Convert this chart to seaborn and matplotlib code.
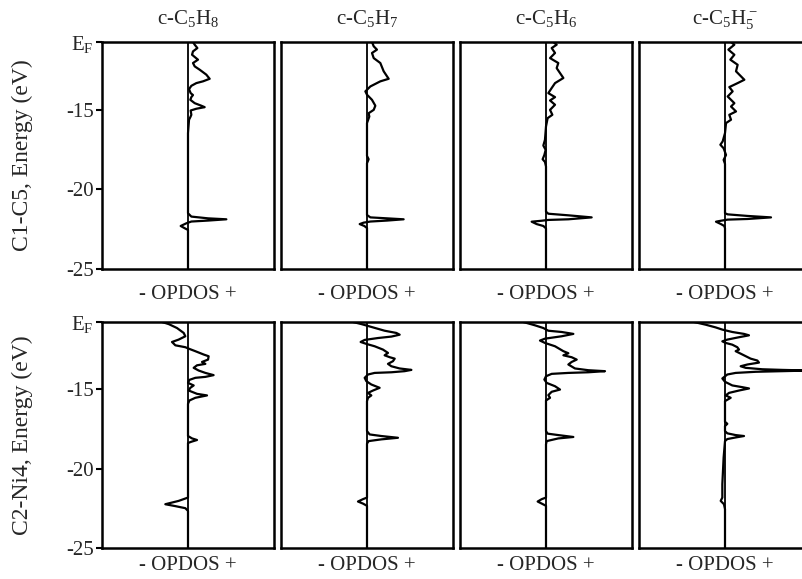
import matplotlib
matplotlib.use('Agg')
import matplotlib.pyplot as plt
import seaborn as sns
import numpy as np

sns.set_style('white')
plt.rcParams['font.family'] = ['Liberation Serif', 'DejaVu Serif']
plt.rcParams['mathtext.fontset'] = 'custom'
plt.rcParams['mathtext.rm'] = 'Liberation Serif'
plt.rcParams['mathtext.default'] = 'regular'
plt.rcParams['axes.unicode_minus'] = False

# ---- data (energy in eV, OPDOS in arbitrary units) ----
E_F = -10.75
species = ['c-C$_5$H$_8$', 'c-C$_5$H$_7$', 'c-C$_5$H$_6$', 'c-C$_5$H$_5^-$']
bonds = ['C1-C5', 'C2-Ni4']
yticks = [-25, -20, -15, E_F]
ytick_labels = ['-25', '-20', '-15', '$E_F$']

# C1-C5 row
c1c5_h8_e = [-10.75, -10.92, -11.13, -11.34, -11.55, -11.86, -12.07, -12.28, -12.49, -12.80,
             -13.06, -13.22, -13.33, -13.50, -13.71, -13.96, -14.08, -14.21, -14.38, -14.59,
             -14.75, -14.84, -14.94, -15.05, -15.32, -15.47, -15.63, -16.47, -21.50, -21.71,
             -21.82, -21.88, -21.96, -22.02, -22.13, -22.30, -22.44, -22.55, -25.0]
c1c5_h8_v = [0.058, 0.078, 0.109, 0.058, 0.047, 0.116, 0.058, 0.078, 0.136, 0.213,
             0.252, 0.174, 0.097, 0.039, 0.012, 0.031, 0.058, 0.039, 0.027, 0.078,
             0.155, 0.194, 0.097, 0.031, 0.039, 0.027, 0.012, 0.0, 0.0, 0.039,
             0.233, 0.446, 0.233, 0.039, -0.019, -0.085, -0.039, 0.0, 0.0]

c1c5_h7_e = [-10.75, -11.02, -11.23, -11.44, -11.76, -12.07, -12.59, -13.06, -13.22, -13.54,
             -13.85, -14.06, -14.38, -14.75, -15.01, -15.22, -15.43, -15.84, -17.90, -18.11,
             -18.36, -21.61, -21.76, -21.82, -21.88, -21.96, -22.02, -22.09, -22.18, -22.30,
             -22.43, -25.0]
c1c5_h7_v = [0.058, 0.078, 0.116, 0.058, 0.078, 0.155, 0.194, 0.252, 0.155, 0.039,
             -0.019, 0.0, 0.058, 0.097, 0.078, 0.019, 0.027, 0.0, 0.0, 0.019,
             0.0, 0.0, 0.039, 0.233, 0.426, 0.233, 0.039, -0.039, -0.085, -0.031,
             0.0, 0.0]

c1c5_h6_e = [-10.75, -10.92, -11.13, -11.44, -11.76, -12.07, -12.39, -12.70, -13.01, -13.33,
             -13.64, -13.96, -14.21, -14.42, -14.69, -15.01, -15.32, -15.53, -16.05, -16.89,
             -17.25, -17.52, -17.84, -18.11, -18.28, -18.57, -21.40, -21.53, -21.63, -21.76,
             -21.88, -21.92, -21.97, -22.03, -22.18, -22.30, -22.45, -25.0]
c1c5_h6_v = [0.085, 0.124, 0.066, 0.105, 0.047, 0.143, 0.124, 0.163, 0.202, 0.105,
             0.066, 0.027, 0.105, 0.047, 0.105, 0.047, 0.074, 0.019, 0.0, -0.012,
             -0.031, -0.004, -0.019, -0.039, -0.012, 0.0, 0.0, 0.027, 0.260, 0.531,
             0.260, 0.027, -0.050, -0.167, -0.109, -0.031, 0.0, 0.0]

c1c5_h5_e = [-10.75, -10.92, -11.23, -11.55, -11.86, -12.18, -12.59, -13.12, -13.33, -13.58,
             -13.85, -14.17, -14.59, -14.80, -15.11, -15.32, -15.63, -15.84, -16.47, -16.99,
             -17.20, -17.42, -17.84, -18.15, -18.40, -21.50, -21.57, -21.67, -21.76, -21.86,
             -21.90, -21.97, -22.03, -22.18, -22.30, -22.45, -25.0]
c1c5_h5_v = [0.070, 0.109, 0.039, 0.109, 0.062, 0.147, 0.128, 0.225, 0.147, 0.050,
             0.089, 0.031, 0.109, 0.070, 0.128, 0.050, 0.070, 0.012, 0.0, -0.027,
             -0.054, -0.016, 0.012, -0.016, 0.0, 0.0, 0.031, 0.264, 0.535, 0.264,
             0.031, -0.047, -0.105, -0.047, -0.008, 0.0, 0.0]

# C2-Ni4 row
c2ni4_h8_e = [-10.75, -10.88, -11.13, -11.44, -11.65, -11.86, -12.01, -12.22, -12.34, -12.43,
              -12.59, -12.80, -12.91, -13.12, -13.27, -13.39, -13.48, -13.64, -13.81, -13.96,
              -14.10, -14.21, -14.27, -14.40, -14.59, -14.75, -14.90, -15.07, -15.28, -15.38,
              -15.53, -15.70, -15.91, -17.94, -18.09, -18.19, -18.30, -18.38, -21.82, -22.03,
              -22.24, -22.36, -22.49, -22.66, -25.0]
c2ni4_h8_v = [-0.302, -0.225, -0.128, -0.050, -0.031, -0.109, -0.186, -0.147, -0.031, 0.008,
              0.085, 0.182, 0.240, 0.233, 0.163, 0.202, 0.105, 0.066, 0.124, 0.202,
              0.298, 0.202, 0.085, 0.016, 0.0, 0.066, 0.027, 0.008, 0.105, 0.221,
              0.085, 0.016, 0.0, 0.0, 0.047, 0.105, 0.039, 0.0, 0.0, -0.109,
              -0.264, -0.147, -0.031, 0.0, 0.0]

c2ni4_h7_e = [-10.75, -10.88, -11.06, -11.30, -11.44, -11.55, -11.67, -11.76, -11.88, -12.01,
              -12.13, -12.28, -12.49, -12.70, -12.85, -12.97, -13.06, -13.22, -13.39, -13.54,
              -13.68, -13.77, -13.85, -13.92, -13.96, -14.06, -14.27, -14.48, -14.69, -14.90,
              -15.07, -15.22, -15.38, -15.53, -15.74, -17.63, -17.84, -17.94, -18.05, -18.15,
              -18.26, -18.42, -21.82, -21.92, -22.07, -22.20, -22.34, -25.0]
c2ni4_h7_v = [-0.163, -0.066, 0.050, 0.205, 0.341, 0.380, 0.283, 0.128, -0.027, -0.074,
              -0.008, 0.089, 0.186, 0.244, 0.205, 0.264, 0.322, 0.302, 0.244, 0.283,
              0.380, 0.516, 0.438, 0.283, 0.089, 0.012, -0.027, -0.008, 0.050, 0.147,
              0.070, 0.012, 0.050, 0.012, 0.0, 0.0, 0.031, 0.167, 0.360, 0.167,
              0.019, 0.0, 0.0, -0.047, -0.105, -0.047, 0.0, 0.0]

c2ni4_h6_e = [-10.75, -10.96, -11.13, -11.30, -11.38, -11.50, -11.65, -11.80, -11.92, -12.07,
              -12.28, -12.59, -12.72, -12.85, -12.97, -13.12, -13.27, -13.43, -13.68, -13.79,
              -13.85, -13.92, -13.96, -14.02, -14.17, -14.38, -14.59, -14.80, -15.01, -15.15,
              -15.36, -15.53, -15.70, -17.63, -17.79, -17.88, -18.00, -18.09, -18.26, -18.46,
              -21.82, -21.92, -22.07, -22.20, -22.34, -25.0]
c2ni4_h6_v = [-0.264, -0.128, -0.031, 0.027, 0.182, 0.318, 0.182, -0.012, -0.070, -0.012,
              0.105, 0.202, 0.260, 0.202, 0.298, 0.357, 0.298, 0.260, 0.337, 0.492,
              0.686, 0.492, 0.260, 0.066, 0.0, -0.019, 0.008, 0.105, 0.163, 0.066,
              0.027, 0.047, 0.0, 0.0, 0.019, 0.143, 0.318, 0.143, 0.008, 0.0,
              0.0, -0.050, -0.097, -0.050, 0.0, 0.0]

c2ni4_h5_e = [-10.75, -10.92, -11.09, -11.23, -11.38, -11.50, -11.59, -11.71, -11.86, -11.97,
              -12.07, -12.18, -12.34, -12.49, -12.59, -12.80, -13.06, -13.18, -13.31, -13.43,
              -13.54, -13.64, -13.73, -13.77, -13.81, -13.85, -13.89, -13.96, -14.06, -14.31,
              -14.52, -14.75, -14.86, -14.94, -15.07, -15.22, -15.38, -15.53, -15.74, -17.04,
              -17.17, -17.31, -17.63, -17.77, -17.88, -17.94, -18.03, -18.13, -18.26, -19.30,
              -20.98, -21.82, -22.03, -22.24, -22.55, -25.0]
c2ni4_h5_v = [-0.360, -0.225, -0.109, -0.031, 0.085, 0.221, 0.279, 0.163, 0.027, -0.031,
              0.008, 0.085, 0.143, 0.163, 0.124, 0.202, 0.298, 0.376, 0.395, 0.260,
              0.182, 0.240, 0.434, 0.667, 0.977, 0.667, 0.357, 0.124, 0.027, -0.031,
              0.0, 0.085, 0.202, 0.279, 0.163, 0.047, 0.008, 0.066, 0.0, 0.0,
              0.027, 0.0, 0.0, 0.027, 0.124, 0.221, 0.124, 0.027, 0.0, -0.016,
              -0.031, -0.031, -0.050, -0.012, 0.0, 0.0]

curves = [
    [(c1c5_h8_e, c1c5_h8_v), (c1c5_h7_e, c1c5_h7_v), (c1c5_h6_e, c1c5_h6_v), (c1c5_h5_e, c1c5_h5_v)],
    [(c2ni4_h8_e, c2ni4_h8_v), (c2ni4_h7_e, c2ni4_h7_v), (c2ni4_h6_e, c2ni4_h6_v), (c2ni4_h5_e, c2ni4_h5_v)],
]

# ---- layout ----
fig = plt.figure(figsize=(8.03, 5.79), dpi=100)
W, H = 803.0, 579.0
col_left = [102, 281, 460, 639]
row_top = [42, 322]
row_bot = [269, 548]
xlabel_pad = [11.5, 6]

for r in range(2):
    for c in range(4):
        ax = fig.add_axes([col_left[c] / W, 1 - row_bot[r] / H,
                           172 / W, (row_bot[r] - row_top[r]) / H])
        e, v = curves[r][c]
        ax.axvline(0, color='black', lw=1.3, zorder=1)
        sns.lineplot(x=np.array(v), y=np.array(e), sort=False, estimator=None,
                     color='black', lw=1.6, ax=ax, zorder=2)
        ax.set_xlim(-1, 1)
        ax.set_ylim(-25, E_F)
        for s in ax.spines.values():
            s.set_linewidth(1.8)
            s.set_color('black')
        ax.set_xticks([])
        ax.set_xlabel('- OPDOS +', fontsize=15, labelpad=xlabel_pad[r])
        if c == 0:
            ax.set_yticks(yticks)
            ax.set_yticklabels(ytick_labels)
            ax.tick_params(axis='y', left=True, direction='out', length=4,
                           width=1.5, labelsize=15, pad=2, color='black')
            ax.set_ylabel(bonds[r] + ', Energy (eV)', fontsize=17)
            ax.yaxis.set_label_coords(-0.40, 0.5)
        else:
            ax.set_yticks([])
            ax.set_ylabel('')
        if r == 0:
            ax.set_title(species[c], fontsize=15, pad=13)

fig.savefig('out.png', dpi=100)
